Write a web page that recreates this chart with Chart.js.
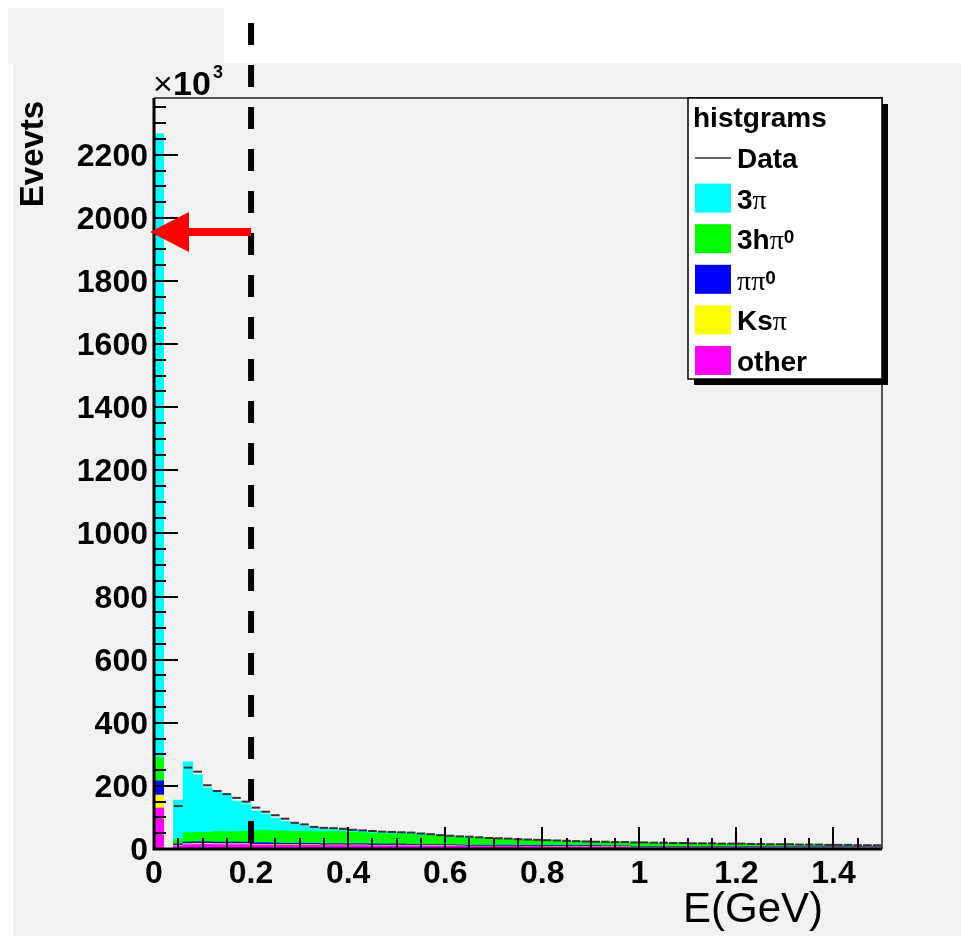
<!DOCTYPE html>
<html>
<head>
<meta charset="utf-8">
<script src="https://cdn.jsdelivr.net/npm/chart.js@4.4.1/dist/chart.umd.min.js"></script>
<style>
  html, body { margin: 0; padding: 0; background: #fff; }
  canvas { display: block; }
</style>
</head>
<body>
<canvas id="grafico" width="961" height="936"></canvas>
<script>
// bins of 0.02 GeV from 0 to 1.5, values in units of 10^3 events
const binWidth = 0.02;
const binCenters = Array.from({ length: 75 }, (_, i) => +((i + 0.5) * binWidth).toFixed(3));

const other = [
  130, 0, 10, 14, 15, 15, 14, 14, 14, 14,
  13, 13, 13, 12, 12, 12, 12, 11, 11, 11,
  11, 11, 10, 10, 10, 10, 10, 9, 9, 9,
  9, 9, 8, 8, 8, 8, 8, 8, 8, 8,
  7, 7, 7, 7, 7, 7, 7, 7, 7, 4,
  4, 4, 4, 4, 4, 4, 4, 4, 4, 4,
  4, 4, 4, 4, 4, 4, 4, 4, 4, 4,
  4, 4, 4, 4, 4,
];
const ksPi = [
  41, 0, 2, 3, 3, 3, 3, 3, 3, 3,
  2, 2, 2, 2, 2, 2, 2, 2, 2, 2,
  2, 2, 2, 2, 2, 2, 2, 2, 2, 2,
  2, 1, 1, 1, 1, 1, 1, 1, 1, 1,
  1, 1, 1, 1, 1, 1, 1, 1, 1, 1,
  1, 1, 1, 1, 1, 1, 1, 1, 1, 1,
  1, 1, 1, 1, 1, 1, 1, 1, 1, 1,
  1, 1, 1, 1, 1,
];
const piPi0 = [
  45, 0, 4, 5, 5, 5, 5, 5, 5, 5,
  5, 5, 4, 4, 4, 4, 4, 4, 4, 4,
  4, 4, 4, 4, 4, 4, 3, 3, 3, 3,
  3, 3, 3, 3, 3, 3, 3, 3, 3, 3,
  3, 3, 3, 3, 3, 3, 2, 2, 2, 2,
  2, 2, 2, 2, 2, 2, 2, 2, 2, 2,
  2, 2, 2, 2, 2, 2, 2, 2, 2, 2,
  2, 2, 2, 2, 2,
];
const threeHPi0 = [
  73, 0, 14, 30, 30, 30, 33, 33, 33, 34,
  38, 39, 38, 39, 38, 38, 37, 38, 39, 38,
  36, 35, 34, 33, 32, 32, 32, 30, 29, 26,
  24, 23, 24, 22, 20, 19, 19, 17, 16, 15,
  15, 14, 13, 12, 11, 10, 11, 10, 10, 12,
  12, 11, 11, 10, 10, 9, 9, 9, 8, 8,
  8, 7, 7, 6, 6, 6, 5, 5, 5, 4,
  4, 4, 3, 3, 3,
];
const threePi = [
  1978, 0, 125, 224, 182, 141, 129, 116, 97, 87,
  63, 52, 41, 31, 23, 17, 13, 9, 8, 7,
  6, 5, 5, 4, 4, 3, 3, 3, 2, 2,
  2, 2, 1, 1, 1, 1, 0, 0, 0, 0,
  0, 0, 0, 0, 0, 0, 0, 0, 0, 0,
  0, 0, 0, 0, 0, 0, 0, 0, 0, 0,
  0, 0, 0, 0, 0, 0, 0, 0, 0, 0,
  0, 0, 0, 0, 0,
];
const dataEvents = [
  null, 0, 136, 258, 245, 202, 184, 174, 162, 150,
  131, 118, 107, 96, 83, 78, 70, 67, 66, 64,
  61, 59, 57, 55, 54, 53, 52, 49, 47, 44,
  42, 40, 39, 37, 35, 34, 33, 31, 30, 29,
  28, 27, 26, 25, 24, 23, 23, 22, 22, 21,
  21, 20, 20, 19, 19, 18, 18, 18, 17, 17,
  17, 16, 16, 15, 15, 15, 14, 14, 14, 13,
  13, 13, 12, 12, 12,
];

const xTicks = [0, 0.2, 0.4, 0.6, 0.8, 1, 1.2, 1.4];
const yTicks = [0, 200, 400, 600, 800, 1000, 1200, 1400, 1600, 1800, 2000, 2200];
const yMax = 2380;
const cutValue = 0.2;
const arrowValue = 1955;

const fontFamily = "'Liberation Sans', Arial, Helvetica, sans-serif";
const greekFamily = "'Liberation Serif', 'Times New Roman', serif";

const toPoints = (arr) => arr.map((v, i) => ({ x: binCenters[i], y: v }));

function barSet(label, values, color, runs) {
  return {
    type: "bar",
    label,
    data: toPoints(values),
    backgroundColor: color,
    borderWidth: 0,
    barPercentage: 1,
    categoryPercentage: 1,
    order: 1,
    legendRuns: runs,
  };
}

function drawRuns(ctx, runs, x, y, size) {
  for (const [text, kind] of runs) {
    let dy = 0;
    if (kind === "g") ctx.font = `${size}px ${greekFamily}`;
    else if (kind === "s") {
      ctx.font = `bold ${Math.round(size * 0.68)}px ${fontFamily}`;
      dy = -6;
    } else ctx.font = `bold ${size}px ${fontFamily}`;
    ctx.fillText(text, x, y + dy);
    x += ctx.measureText(text).width;
  }
}

const rootStyle = {
  id: "rootStyle",
  beforeDraw(chart) {
    const { ctx, width, height } = chart;
    ctx.save();
    ctx.fillStyle = "#ffffff";
    ctx.fillRect(0, 0, width, height);
    ctx.fillStyle = "#f2f2f2";
    ctx.fillRect(8, 8, 216, 56);
    ctx.fillRect(13, 63, width - 13, height - 63);
    ctx.restore();
  },
  afterDatasetsDraw(chart) {
    const { ctx, chartArea: a, scales } = chart;
    const x = scales.x;
    const y = scales.y;
    ctx.save();

    // frame
    ctx.strokeStyle = "#555";
    ctx.lineWidth = 2;
    ctx.beginPath();
    ctx.moveTo(a.left, a.top);
    ctx.lineTo(a.right, a.top);
    ctx.lineTo(a.right, a.bottom);
    ctx.stroke();
    ctx.strokeStyle = "#000";
    ctx.lineWidth = 3;
    ctx.beginPath();
    ctx.moveTo(a.left, a.top);
    ctx.lineTo(a.left, a.bottom);
    ctx.lineTo(a.right, a.bottom);
    ctx.stroke();

    // inward ticks
    ctx.lineWidth = 2;
    ctx.beginPath();
    for (let v = 0; v < yMax; v += 50) {
      const py = Math.round(y.getPixelForValue(v));
      const len = v % 200 === 0 ? 24 : 12;
      ctx.moveTo(a.left, py);
      ctx.lineTo(a.left + len, py);
    }
    for (let k = 0; k < 30; k++) {
      const px = Math.round(x.getPixelForValue(k * 0.05));
      const len = k % 4 === 0 ? 22 : 11;
      ctx.moveTo(px, a.bottom);
      ctx.lineTo(px, a.bottom - len);
    }
    ctx.stroke();

    // tick labels
    ctx.fillStyle = "#000";
    ctx.font = `bold 32px ${fontFamily}`;
    ctx.textBaseline = "alphabetic";
    ctx.textAlign = "right";
    y.ticks.forEach((t) => {
      ctx.fillText(String(t.value), a.left - 6, y.getPixelForValue(t.value) + 11);
    });
    ctx.textAlign = "center";
    x.ticks.forEach((t) => {
      ctx.fillText(String(+t.value.toFixed(1)), x.getPixelForValue(t.value), a.bottom + 34);
    });

    // cut line
    const cx = x.getPixelForValue(cutValue);
    ctx.strokeStyle = "#000";
    ctx.setLineDash([22, 20]);
    ctx.lineWidth = 6;
    ctx.beginPath();
    ctx.moveTo(cx, 23);
    ctx.lineTo(cx, a.bottom);
    ctx.stroke();
    ctx.setLineDash([]);

    // red arrow
    const ay = y.getPixelForValue(arrowValue);
    const tip = x.getPixelForValue(0) - 4;
    ctx.fillStyle = "#ff0000";
    ctx.beginPath();
    ctx.moveTo(tip, ay);
    ctx.lineTo(tip + 39, ay - 20);
    ctx.lineTo(tip + 39, ay - 4);
    ctx.lineTo(cx, ay - 4);
    ctx.lineTo(cx, ay + 4);
    ctx.lineTo(tip + 39, ay + 4);
    ctx.lineTo(tip + 39, ay + 20);
    ctx.closePath();
    ctx.fill();

    // legend
    const lx = 688, ly = 98, lw = 194, lh = 281;
    ctx.fillStyle = "#000";
    ctx.fillRect(lx + 6, ly + 6, lw, lh);
    ctx.fillStyle = "#fff";
    ctx.fillRect(lx, ly, lw, lh);
    ctx.strokeStyle = "#000";
    ctx.lineWidth = 1.5;
    ctx.strokeRect(lx, ly, lw, lh);
    ctx.fillStyle = "#000";
    ctx.textAlign = "left";
    ctx.font = `bold 28px ${fontFamily}`;
    ctx.fillText("histgrams", lx + 5, ly + 29);

    const datasets = chart.data.datasets;
    const entries = [datasets.find((d) => d.type === "line")]
      .concat(datasets.filter((d) => d.type === "bar").reverse());
    entries.forEach((d, i) => {
      const base = ly + 70 + i * 40.6;
      if (d.type === "line") {
        ctx.strokeStyle = "#666";
        ctx.lineWidth = 2;
        ctx.beginPath();
        ctx.moveTo(lx + 7, base - 10);
        ctx.lineTo(lx + 43, base - 10);
        ctx.stroke();
      } else {
        ctx.fillStyle = d.backgroundColor;
        ctx.fillRect(lx + 7, base - 25, 36, 29);
      }
      ctx.fillStyle = "#000";
      drawRuns(ctx, d.legendRuns, lx + 49, base, 28);
    });

    // axis titles and exponent
    ctx.font = `34px ${fontFamily}`;
    ctx.fillText("×", 153, 95);
    ctx.font = `bold 34px ${fontFamily}`;
    ctx.fillText("10", 173, 95);
    ctx.font = `bold 18px ${fontFamily}`;
    ctx.fillText("3", 213, 78);

    ctx.font = `42px ${fontFamily}`;
    ctx.textAlign = "right";
    ctx.fillText("E(GeV)", 823, 922);

    ctx.translate(43, 154);
    ctx.rotate(-Math.PI / 2);
    ctx.textAlign = "center";
    ctx.font = `bold 33px ${fontFamily}`;
    ctx.fillText("Evevts", 0, 0);
    ctx.restore();
  },
};

new Chart(document.getElementById("grafico"), {
  type: "bar",
  data: {
    datasets: [
      barSet("other", other, "#ff00ff", [["other", "b"]]),
      barSet("Ksπ", ksPi, "#ffff00", [["Ks", "b"], ["π", "g"]]),
      barSet("ππ0", piPi0, "#0000ff", [["ππ", "g"], ["0", "s"]]),
      barSet("3hπ0", threeHPi0, "#00ff00", [["3h", "b"], ["π", "g"], ["0", "s"]]),
      barSet("3π", threePi, "#00ffff", [["3", "b"], ["π", "g"]]),
      {
        type: "line",
        label: "Data",
        stack: "data",
        data: toPoints(dataEvents),
        showLine: false,
        pointStyle: "line",
        pointRadius: 4.3,
        pointHoverRadius: 4.3,
        pointBorderWidth: 2,
        borderColor: "#333",
        backgroundColor: "#333",
        order: 0,
        legendRuns: [["Data", "b"]],
      },
    ],
  },
  options: {
    responsive: false,
    devicePixelRatio: 1,
    animation: false,
    events: [],
    layout: { padding: { left: 154, top: 98, right: 79, bottom: 87 } },
    plugins: {
      legend: { display: false },
      tooltip: { enabled: false },
    },
    scales: {
      x: {
        type: "linear",
        stacked: true,
        offset: false,
        min: 0,
        max: 1.5,
        afterFit: (s) => { s.height = 0; },
        afterBuildTicks: (s) => { s.ticks = xTicks.map((v) => ({ value: v })); },
        grid: { display: false, drawTicks: false },
        border: { display: false },
        ticks: { display: false },
      },
      y: {
        stacked: true,
        min: 0,
        max: yMax,
        afterFit: (s) => { s.width = 0; },
        afterBuildTicks: (s) => { s.ticks = yTicks.map((v) => ({ value: v })); },
        grid: { display: false, drawTicks: false },
        border: { display: false },
        ticks: { display: false },
      },
    },
  },
  plugins: [rootStyle],
});
</script>
</body>
</html>
